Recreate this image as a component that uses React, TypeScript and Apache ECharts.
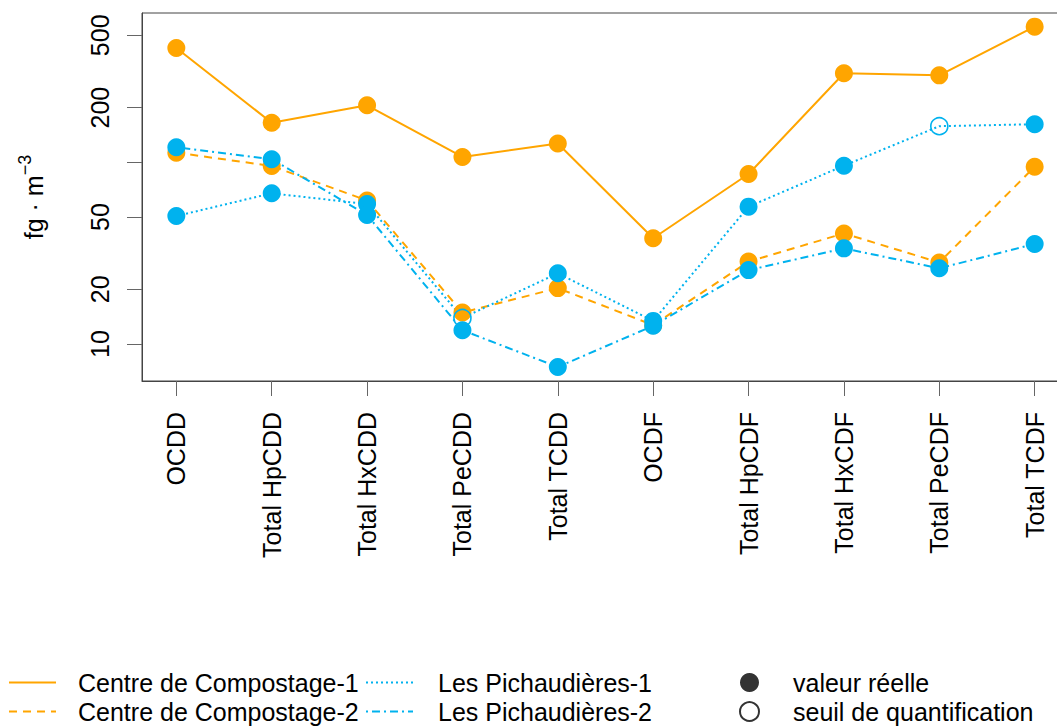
import React, { useEffect, useRef } from "react";
import * as echarts from "echarts";

const categories = [
  "OCDD",
  "Total HpCDD",
  "Total HxCDD",
  "Total PeCDD",
  "Total TCDD",
  "OCDF",
  "Total HpCDF",
  "Total HxCDF",
  "Total PeCDF",
  "Total TCDF",
];

const compostage1 = [426, 165, 206, 107, 127, 38.2, 86.2, 309, 301, 558];
const compostage2 = [113, 95.4, 61.6, 14.9, 20.3, 12.7, 28.4, 40.6, 28.1, 94.6];
const pichaudieres1 = [50.6, 67.5, 58.9, 13.9, 24.5, 13.4, 57.0, 95.8, 158, 162];
const pichaudieres2 = [121, 104, 51.3, 11.9, 7.47, 12.6, 25.5, 33.6, 26.1, 35.5];

// true = below quantification threshold (open marker)
const compostage1Seuil = [false, false, false, false, false, false, false, false, false, false];
const compostage2Seuil = [false, false, false, false, false, false, false, false, false, false];
const pichaudieres1Seuil = [false, false, false, true, false, false, false, false, true, false];
const pichaudieres2Seuil = [false, false, false, false, false, false, false, false, false, false];

const yTicks = [10, 20, 50, 100, 200, 500];
const yHiddenLabels = [100];

const ORANGE = "#FFA500";
const BLUE = "#00B2EE";
const FONT = "Liberation Sans, Arial, sans-serif";

export default function App() {
  const ref = useRef<HTMLDivElement>(null);

  useEffect(() => {
    if (!ref.current) return;
    const chart = echarts.init(ref.current, null, { renderer: "svg" });

    const mkSeries = (
      name: string,
      values: number[],
      seuil: boolean[],
      color: string,
      dash: number[] | "solid"
    ) => ({
      name,
      type: "line",
      symbol: "circle",
      symbolSize: 18,
      lineStyle: { color, width: 2, type: dash },
      itemStyle: { color, borderWidth: 0 },
      emphasis: { disabled: true },
      data: values.map((v, i) =>
        seuil[i]
          ? {
              value: [i + 1, Math.log10(v)],
              symbolSize: 17,
              itemStyle: { color: "rgba(255,255,255,0)", borderColor: color, borderWidth: 1.6 },
            }
          : { value: [i + 1, Math.log10(v)] }
      ),
    });

    const hiddenSym = { opacity: 0, color: "rgba(0,0,0,0)", borderWidth: 0 };

    const legendBase = {
      orient: "vertical",
      top: 670,
      height: 70,
      padding: 0,
      itemGap: 4,
      selectedMode: false,
    };

    const option: any = {
      animation: false,
      backgroundColor: "#ffffff",
      textStyle: { fontFamily: FONT, color: "#000" },
      grid: {
        left: 142,
        top: 13,
        width: 927,
        height: 368,
        containLabel: false,
        outerBoundsMode: "none",
        show: true,
        borderColor: "#444",
        borderWidth: 1,
        backgroundColor: "transparent",
      },
      xAxis: {
        type: "value",
        min: 0.64,
        max: 10.36,
        axisLine: { show: true, lineStyle: { color: "#444", width: 1 } },
        axisTick: {
          show: true,
          length: 15,
          lineStyle: { color: "#666", width: 1 },
          customValues: categories.map((_, i) => i + 1),
        },
        axisLabel: {
          rotate: 90,
          margin: 31,
          fontSize: 25,
          color: "#000",
          fontFamily: FONT,
          customValues: categories.map((_, i) => i + 1),
          formatter: (v: number) => categories[Math.round(v) - 1] ?? "",
        },
        splitLine: { show: false },
      },
      yAxis: {
        type: "value",
        min: Math.log10(6.256),
        max: Math.log10(663.2),
        name: "{a|fg · m}{b|−3}",
        nameLocation: "middle",
        nameRotate: 90,
        nameGap: 96,
        nameTextStyle: {
          rich: {
            a: { fontSize: 25, lineHeight: 25, verticalAlign: "bottom", fontFamily: FONT, color: "#000" },
            b: { fontSize: 18, lineHeight: 18, padding: [0, 0, 12, 0], verticalAlign: "bottom", fontFamily: FONT, color: "#000" },
          },
        },
        axisLine: { show: true, lineStyle: { color: "#444", width: 1 } },
        axisTick: {
          show: true,
          length: 15,
          lineStyle: { color: "#666", width: 1 },
          customValues: yTicks.map((t) => Math.log10(t)),
        },
        axisLabel: {
          rotate: 90,
          margin: 30,
          fontSize: 25,
          color: "#000",
          fontFamily: FONT,
          customValues: yTicks.map((t) => Math.log10(t)),
          formatter: (v: number) => {
            const n = Math.round(Math.pow(10, v));
            return yHiddenLabels.includes(n) ? "" : String(n);
          },
        },
        splitLine: { show: false },
      },
      legend: [
        {
          ...legendBase,
          left: 8,
          width: 350,
          itemWidth: 47,
          itemHeight: 14,
          textStyle: { fontSize: 25, lineHeight: 25, color: "#000", padding: [0, 0, 0, 17], fontFamily: FONT },
          data: [
            { name: "Centre de Compostage-1", itemStyle: hiddenSym },
            { name: "Centre de Compostage-2", itemStyle: hiddenSym },
          ],
        },
        {
          ...legendBase,
          left: 365,
          width: 330,
          itemWidth: 47,
          itemHeight: 14,
          textStyle: { fontSize: 25, lineHeight: 25, color: "#000", padding: [0, 0, 0, 20], fontFamily: FONT },
          data: [
            { name: "Les Pichaudières-1", itemStyle: hiddenSym },
            { name: "Les Pichaudières-2", itemStyle: hiddenSym },
          ],
        },
        {
          ...legendBase,
          left: 739,
          width: 318,
          itemWidth: 19,
          itemHeight: 19,
          textStyle: { fontSize: 25, lineHeight: 25, color: "#000", padding: [0, 0, 0, 29], fontFamily: FONT },
          data: ["valeur réelle", "seuil de quantification"],
        },
      ],
      series: [
        mkSeries("Centre de Compostage-1", compostage1, compostage1Seuil, ORANGE, "solid"),
        mkSeries("Centre de Compostage-2", compostage2, compostage2Seuil, ORANGE, [8, 6]),
        mkSeries("Les Pichaudières-1", pichaudieres1, pichaudieres1Seuil, BLUE, [2, 3]),
        mkSeries("Les Pichaudières-2", pichaudieres2, pichaudieres2Seuil, BLUE, [2, 4, 8, 4]),
        {
          name: "valeur réelle",
          type: "scatter",
          symbol: "circle",
          symbolSize: 19,
          itemStyle: { color: "#000" },
          data: [],
        },
        {
          name: "seuil de quantification",
          type: "scatter",
          symbol: "circle",
          symbolSize: 19,
          itemStyle: { color: "rgba(255,255,255,0)", borderColor: "#000", borderWidth: 1.6 },
          data: [],
        },
      ],
    };

    chart.setOption(option);
    return () => chart.dispose();
  }, []);

  return (
    <div
      ref={ref}
      style={{ position: "fixed", left: 0, top: 0, width: 1057, height: 726, background: "#fff" }}
    />
  );
}
